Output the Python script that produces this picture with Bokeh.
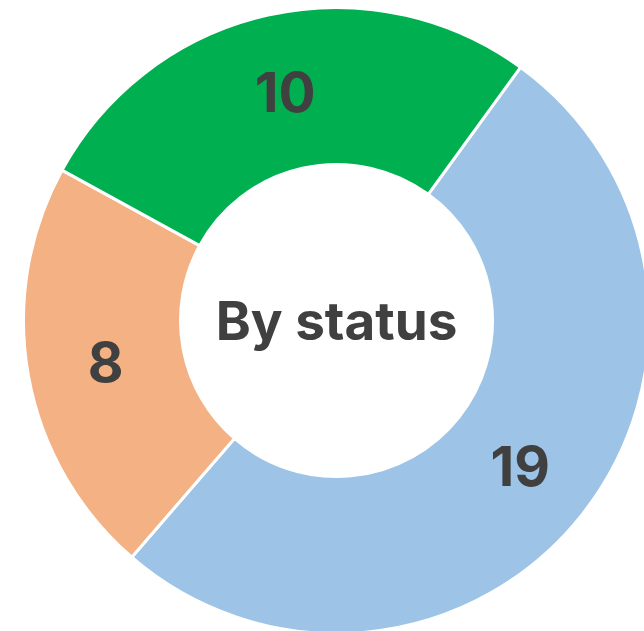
import numpy as np
from bokeh.plotting import figure
from bokeh.models import Range1d, ColumnDataSource
from bokeh.core.properties import value
from bokeh.embed import file_html
from bokeh.resources import INLINE

categories = ["Blue", "Orange", "Green"]
counts = [19, 8, 10]
colors = ["#9DC3E6", "#F4B183", "#00B050"]
center_title = "By status"

W, H = 644, 631
cx, cy = 336, H - 320
r_in, r_out = 156, 313
start_deg = 54.0  # math angle (ccw from +x) of first slice start

vals = np.array(counts, dtype=float)
fracs = vals / vals.sum()
cum = np.concatenate([[0], np.cumsum(fracs)])
starts = np.deg2rad(start_deg) - cum[:-1] * 2 * np.pi
ends = np.deg2rad(start_deg) - cum[1:] * 2 * np.pi
mids = (starts + ends) / 2
r_mid = (r_in + r_out) / 2

src = ColumnDataSource(dict(
    x=[cx] * len(counts), y=[cy] * len(counts),
    start=starts, end=ends, color=colors,
    lx=cx + r_mid * np.cos(mids), ly=cy + r_mid * np.sin(mids),
    label=[str(c) for c in counts],
))

p = figure(width=W, height=H, output_backend="svg", toolbar_location=None,
           x_range=Range1d(0, W), y_range=Range1d(0, H),
           min_border=0)
p.axis.visible = False
p.grid.visible = False
p.outline_line_color = None
p.background_fill_color = "white"

p.annular_wedge(x="x", y="y", inner_radius=r_in, outer_radius=r_out,
                inner_radius_units="screen", outer_radius_units="screen",
                start_angle="start", end_angle="end", direction="clock",
                fill_color="color", line_color="white", line_width=3, source=src)

p.text(x="lx", y="ly", text="label", source=src, text_align="center",
       text_baseline="middle", text_font=value("Inter"), text_font_style="bold",
       text_font_size="55px", text_color="#404040")

p.text(x=[cx], y=[cy], text=[center_title], text_align="center",
       text_baseline="middle", text_font=value("Inter"), text_font_style="bold",
       text_font_size="53px", text_color="#404040")

open("out.html", "w").write(file_html(p, INLINE))
